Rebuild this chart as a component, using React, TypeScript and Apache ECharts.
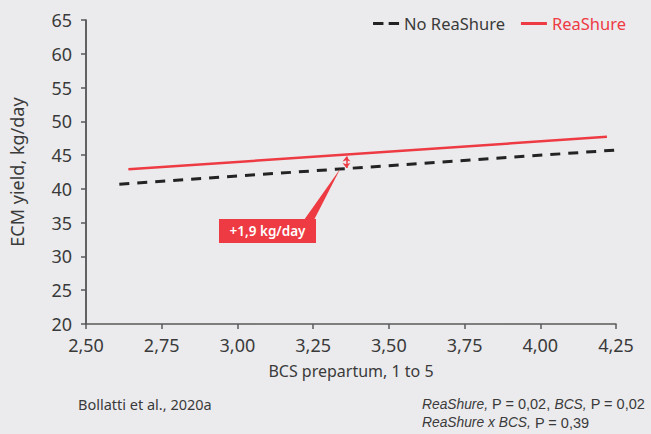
import React, { useEffect, useRef } from "react";
import * as echarts from "echarts";

const seriesNames = ["No ReaShure", "ReaShure"];
const noReaShure: [number, number][] = [
  [2.61, 40.7],
  [4.25, 45.75],
];
const reaShure: [number, number][] = [
  [2.64, 42.9],
  [4.22, 47.7],
];
const diffX = 3.36;
const diffLow = 43.0;
const diffHigh = 45.1;
const diffLabel = "+1,9 kg/day";
const yTicks = { min: 20, max: 65, interval: 5 };
const xTicks = { min: 2.5, max: 4.25, interval: 0.25 };

const RED = "#ee3a43";
const DARK = "#232323";
const TEXT = "#3a3a3a";
const FONT = "'Noto Sans', 'Open Sans', sans-serif";
const LIB = "'Liberation Sans', Arial, sans-serif";
const NARROW = "'Liberation Sans Narrow', 'Liberation Sans', sans-serif";

export default function App() {
  const ref = useRef<HTMLDivElement>(null);
  useEffect(() => {
    if (!ref.current) return;
    const chart = echarts.init(ref.current, null, { renderer: "svg" });
    const fmt = (v: number) => v.toFixed(2).replace(".", ",");
    chart.setOption({
      animation: false,
      backgroundColor: "#ebebed",
      textStyle: { fontFamily: FONT },
      grid: { left: 83, top: 20, right: 35, bottom: 110 },
      legend: {
        top: 10,
        right: 20,
        itemWidth: 26,
        itemHeight: 4,
        itemGap: 16,
        textStyle: { fontSize: 16.5, fontFamily: FONT },
        data: [
          {
            name: seriesNames[0],
            icon: "path://M0,0h10v3h-10z M15,0h10v3h-10z",
            textStyle: { color: TEXT },
          },
          {
            name: seriesNames[1],
            icon: "path://M0,0h26v3h-26z",
            textStyle: { color: RED },
          },
        ],
      },
      xAxis: {
        type: "value",
        min: xTicks.min,
        max: xTicks.max,
        interval: xTicks.interval,
        name: "BCS prepartum, 1 to 5",
        nameLocation: "middle",
        nameGap: 39,
        nameTextStyle: { fontSize: 16, color: TEXT, fontFamily: FONT },
        axisLine: { lineStyle: { color: "#5a5a5a", width: 1.5 } },
        axisTick: { length: 5, lineStyle: { color: "#5a5a5a", width: 1.5 } },
        axisLabel: { fontSize: 18, color: TEXT, margin: 12, formatter: fmt },
        splitLine: { show: false },
      },
      yAxis: {
        type: "value",
        min: yTicks.min,
        max: yTicks.max,
        interval: yTicks.interval,
        name: "ECM yield, kg/day",
        nameLocation: "middle",
        nameGap: 60,
        nameTextStyle: { fontSize: 18, color: TEXT, fontFamily: FONT },
        axisLine: { show: true, lineStyle: { color: "#333", width: 1.5 } },
        axisTick: { show: true, length: 5, lineStyle: { color: "#5a5a5a", width: 1.5 } },
        axisLabel: { fontSize: 18, color: TEXT, margin: 14 },
        splitLine: { show: false },
      },
      series: [
        {
          name: seriesNames[0],
          type: "line",
          data: noReaShure,
          symbol: "none",
          lineStyle: { color: DARK, width: 3, type: [10, 8] },
          itemStyle: { color: DARK },
          z: 3,
        },
        {
          name: seriesNames[1],
          type: "line",
          data: reaShure,
          symbol: "none",
          lineStyle: { color: RED, width: 2.5 },
          itemStyle: { color: RED },
          z: 4,
        },
        {
          name: "diff",
          type: "line",
          data: [],
          markLine: {
            silent: true,
            symbol: ["arrow", "arrow"],
            symbolSize: [6, 5],
            label: { show: false },
            lineStyle: { color: RED, width: 1.5, type: "solid" },
            data: [
              [
                { coord: [diffX, diffLow + 0.1] },
                { coord: [diffX, diffHigh - 0.3] },
              ],
            ],
          },
        },
      ],
    });
    const tip = chart.convertToPixel({ gridIndex: 0 }, [diffX - 0.02, diffLow]) as number[];
    const box = { x: 219, y: 219, w: 97, h: 24 };
    const rich = {
      i: { fontStyle: "italic", fontSize: 13.8, fontFamily: NARROW, fill: TEXT },
      n: { fontSize: 14.5, fontFamily: LIB, fill: TEXT },
    };
    const foot = (text: string, y: number) => ({
      type: "text",
      x: 422,
      y,
      style: {
        text,
        fill: TEXT,
        fontSize: 14.5,
        fontFamily: LIB,
        verticalAlign: "middle",
        rich,
      },
    });
    chart.setOption({
      graphic: [
        {
          type: "polygon",
          z: 10,
          shape: {
            points: [
              [box.x + box.w - 12, box.y + 1],
              [box.x + box.w - 2, box.y + 1],
              [tip[0], tip[1]],
            ],
          },
          style: { fill: RED },
        },
        {
          type: "rect",
          z: 10,
          shape: { x: box.x, y: box.y, width: box.w, height: box.h },
          style: { fill: RED },
        },
        {
          type: "text",
          z: 11,
          x: box.x + box.w / 2,
          y: box.y + box.h / 2,
          style: {
            text: diffLabel,
            fill: "#fff",
            fontSize: 13.5,
            fontWeight: 600,
            fontFamily: FONT,
            align: "center",
            verticalAlign: "middle",
          },
        },
        {
          type: "text",
          x: 78,
          y: 404,
          style: {
            text: "Bollatti et al., 2020a",
            fill: TEXT,
            fontSize: 14.5,
            fontFamily: FONT,
            verticalAlign: "middle",
          },
        },
        foot("{i|ReaShure,}{n| P = 0,02, }{i|BCS,}{n| P = 0,02}", 404),
        foot("{i|ReaShure x BCS,}{n| P = 0,39}", 422.5),
      ],
    });
    return () => chart.dispose();
  }, []);
  return <div ref={ref} style={{ width: 651, height: 434, position: "fixed", left: 0, top: 0 }} />;
}
